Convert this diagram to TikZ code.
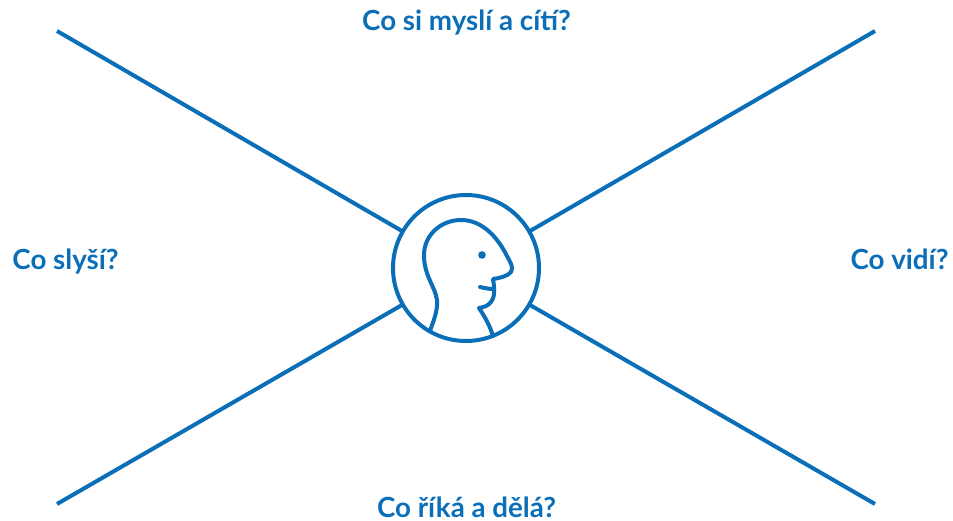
\documentclass[tikz,border=0pt]{standalone}
\usepackage{fontspec}
\setmainfont{Lato}
\definecolor{bl}{RGB}{11,110,184}
\tikzset{ln/.style={draw=bl,line width=3pt},lab/.style={text=bl,font=\fontsize{20.8}{24}\selectfont\bfseries,inner sep=0pt,anchor=base}}
\begin{document}
\begin{tikzpicture}[x=0.75pt,y=-0.75pt]
\useasboundingbox (0,0) rectangle (953,521);
\node[circle,ln,minimum size=109.5pt,inner sep=0pt] (c) at (466,268) {};
\coordinate (tl) at (57,31);
\coordinate (tr) at (875,31);
\coordinate (bl) at (57,504);
\coordinate (br) at (875,504);
\draw[ln] (tl) -- (402,231);
\draw[ln] (tr) -- (530,231);
\draw[ln] (bl) -- (402,305);
\draw[ln] (br) -- (530,305);
\node[lab] (a) at (466.5,30) {Co si myslí a cítí?};
\node[lab] (b) at (466.5,517) {Co říká a dělá?};
\node[lab] (d) at (65.5,269) {Co slyší?};
\node[lab] (e) at (899.5,269) {Co vidí?};
\draw[ln,line join=round,line cap=round] (430,331) .. controls (433,322) and (438,311) .. (437,300) .. controls (435,286) and (424,276) .. (424,255) .. controls (424,235) and (441,220) .. (461,220) .. controls (484,220) and (499,240) .. (507,256) .. controls (510,262) and (514,267) .. (511,272) .. controls (508,276) and (500,278) .. (493,279) .. controls (494,286) and (496,295) .. (491,302) .. controls (488,306) and (484,307) .. (479,308) .. controls (485,317) and (490,326) .. (493,336);
\draw[ln,line cap=round] (480,287) .. controls (484,288) and (489,289) .. (494,289);
\fill[bl] (482,255) circle (3.8);
\end{tikzpicture}
\end{document}
